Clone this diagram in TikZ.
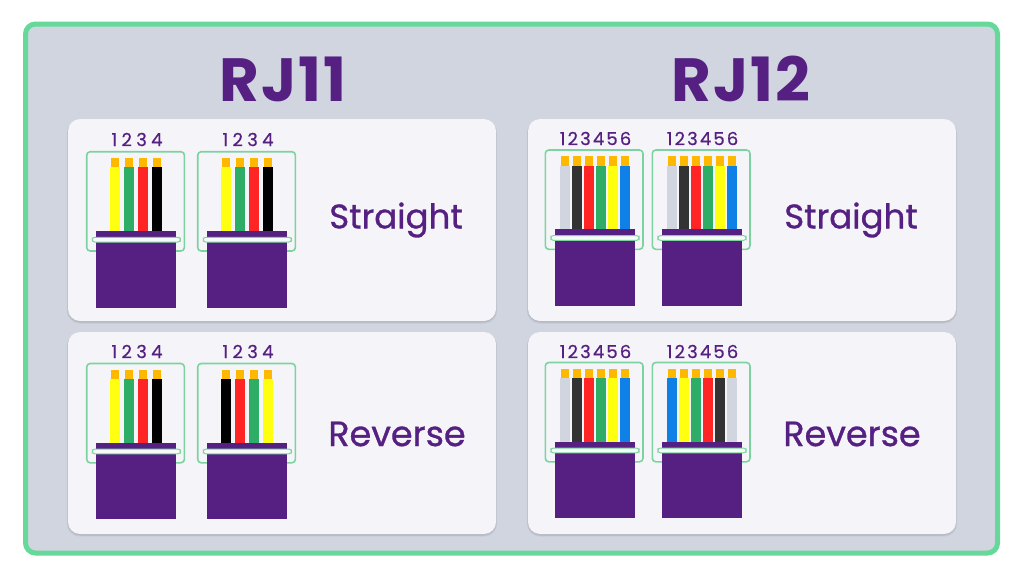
\documentclass[tikz,border=0pt]{standalone}
\usepackage{fontspec}
\setmainfont{Poppins}
\newfontfamily\titlef[LetterSpace=3]{Poppins}
\newfontfamily\kindf[FakeBold=0.9]{Poppins}
\newfontfamily\numsA[FakeBold=0.6,LetterSpace=24]{Poppins}
\newfontfamily\numsB[FakeBold=0.6,LetterSpace=12]{Poppins}
\definecolor{frameG}{HTML}{66D89A}
\definecolor{boxG}{HTML}{7DD3A0}
\definecolor{bgC}{HTML}{D0D5E0}
\definecolor{panelC}{HTML}{F5F5F9}
\definecolor{purp}{HTML}{552081}
\definecolor{tipC}{HTML}{FFB800}
\definecolor{wY}{HTML}{FFFF10}
\definecolor{wG}{HTML}{2DAD66}
\definecolor{wR}{HTML}{FF2525}
\definecolor{wK}{HTML}{000000}
\definecolor{wS}{HTML}{D0D5E0}
\definecolor{wD}{HTML}{333333}
\definecolor{wB}{HTML}{0F80E6}
\tikzset{
  outerbox/.style={draw=frameG,line width=5pt,fill=bgC,rounded corners=10pt},
  panelbox/.style={fill=panelC,rounded corners=12pt},
  panelshade/.style={fill=black,fill opacity=0.05,rounded corners=13pt},
  plugframe/.style={draw=boxG,line width=1.6pt,rounded corners=3.5pt},
  pill/.style={draw=boxG,line width=1pt,fill=white!92!boxG,rounded corners=2.4pt},
  bodyfill/.style={fill=purp},
  title/.style={text=purp,font=\fontsize{61}{61}\selectfont\titlef\bfseries,inner sep=0pt},
  kind/.style={text=purp,font=\fontsize{34}{34}\selectfont\kindf,inner sep=0pt},
  kindwide/.style={text=purp,font=\fontsize{35}{35}\selectfont\kindf,inner sep=0pt},
  pinsA/.style={text=purp,font=\fontsize{18}{18}\selectfont\numsA,inner sep=0pt},
  pinsB/.style={text=purp,font=\fontsize{18}{18}\selectfont\numsB,inner sep=0pt}
}
% frame left, frame top, wire offset, pitch, colours
\newcommand{\plug}[5]{%
  \draw[plugframe] (#1,#2) rectangle (#1+97.7,#2+99.3);
  \foreach \c [count=\i from 0] in {#5}{
    \fill[tipC] (#1+#3+1+\i*#4,#2+6.3) rectangle (#1+#3+9+\i*#4,#2+15.5);
    \fill[\c] (#1+#3+\i*#4,#2+15.5) rectangle (#1+#3+10+\i*#4,#2+79.5);
  }
  \fill[bodyfill] (#1+9.5,#2+79.3) rectangle (#1+89.5,#2+85.6);
  \fill[bodyfill] (#1+9.5,#2+88) rectangle (#1+89.5,#2+155.8);
  \draw[pill] (#1+5.6,#2+85.6) rectangle (#1+93.7,#2+90.3);
}
\newcommand{\panel}[4]{%
  \foreach \s in {0,1,2}{
    \fill[panelshade] (#1-\s*0.6,#2+\s*0.4) rectangle (#3+\s*0.6,#4+1+\s*0.8);
  }
  \fill[panelbox] (#1,#2) rectangle (#3,#4);
}
\begin{document}
\begin{tikzpicture}[x=1pt,y=-1pt]
\useasboundingbox (0,0) rectangle (1024,576);
\fill[white] (0,0) rectangle (1024,576);
\draw[outerbox] (25.5,24) rectangle (997.5,553);
\node[title] (t11) at (283,79.5) {RJ11};
\node[title] (t12) at (741,78.5) {RJ12};
\panel{68}{119}{496}{321}
\panel{528}{119}{956}{321}
\panel{68}{332}{496}{534}
\panel{528}{332}{956}{534}
% RJ11 straight
\node[pinsA] (a1) at (137,139.5) {1234};
\node[pinsA] (a2) at (248,139.5) {1234};
\plug{86.7}{151.7}{23.3}{14}{wY,wG,wR,wK}
\plug{197.7}{151.7}{23.3}{14}{wY,wG,wR,wK}
\node[kind] (s1) at (396,220) {Straight};
% RJ11 reverse
\node[pinsA] (b1) at (137,351.5) {1234};
\node[pinsA] (b2) at (248,351.5) {1234};
\plug{86.7}{363.5}{23.3}{14}{wY,wG,wR,wK}
\plug{197.7}{363.5}{23.3}{14}{wK,wR,wG,wY}
\node[kind,kindwide] (r1) at (397,434) {Reverse};
% RJ12 straight
\node[pinsB] (c1) at (595.5,138.5) {123456};
\node[pinsB] (c2) at (702.5,138.5) {123456};
\plug{545.3}{150}{14.7}{12}{wS,wD,wR,wG,wY,wB}
\plug{652.3}{150}{14.7}{12}{wS,wD,wR,wG,wY,wB}
\node[kind] (s2) at (851,220) {Straight};
% RJ12 reverse
\node[pinsB] (d1) at (595.5,351.5) {123456};
\node[pinsB] (d2) at (702.5,351.5) {123456};
\plug{545.3}{362.5}{14.7}{12}{wS,wD,wR,wG,wY,wB}
\plug{652.3}{362.5}{14.7}{12}{wB,wY,wG,wR,wD,wS}
\node[kind,kindwide] (r2) at (852,434) {Reverse};
\end{tikzpicture}
\end{document}
